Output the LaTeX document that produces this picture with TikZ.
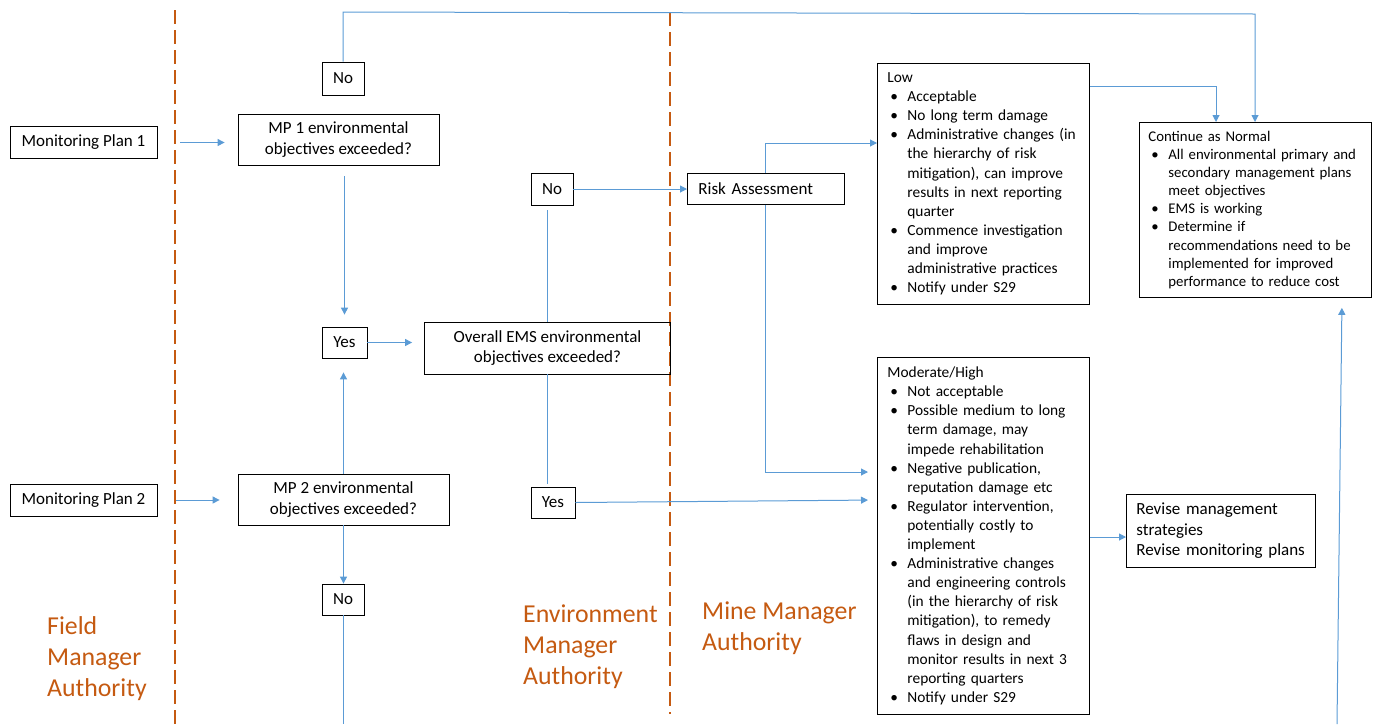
\documentclass[tikz,border=0pt]{standalone}
\usepackage{fontspec}
\setmainfont{Carlito}
\usetikzlibrary{arrows.meta}
\definecolor{orng}{HTML}{C55A11}
\definecolor{arw}{HTML}{5B9BD5}
\newcommand{\bitem}[1]{\mbox{\hspace*{3pt}\makebox[17pt][l]{\textbullet}#1}}
\newcommand{\bcont}[1]{\mbox{\hspace*{20pt}#1}}
\begin{document}
\begin{tikzpicture}[x=1pt,y=-1pt,
  box/.style={draw=black, line width=0.8pt, inner sep=0pt, font=\fontsize{17}{20.5}\selectfont, align=center},
  lbox/.style={box, anchor=north west, align=left, inner xsep=10pt, inner ysep=0pt},
  listfont/.style={font=\fontsize{15.4}{19.1}\selectfont},
  conn/.style={draw=arw, line width=1pt},
  arr/.style={conn, -{Triangle[length=7pt,width=7pt]}},
  lane/.style={draw=orng, line width=1.6pt, dash pattern=on 14pt off 6pt},
  lab/.style={text=orng, font=\fontsize{25.8}{31}\selectfont, align=left, anchor=north west, inner sep=0pt}
]
\useasboundingbox (0,0) rectangle (1378,724);

% swim lanes
\draw[lane] (175,10) -- (175,724);
\draw[lane] (670,12) -- (670,714);

% lane labels
\node[lab] (fieldlab) at (47,616) {Field\\Manager\\Authority};
\node[lab] (envlab) at (523,605) {Environment\\Manager\\Authority};
\node[lab] (minelab) at (702,602) {Mine Manager\\Authority};

% left column
\node[box, minimum width=147pt, minimum height=32pt] (mp1plan) at (83.5,142.5) {Monitoring Plan 1};
\node[box, minimum width=201pt, minimum height=51pt] (mp1) at (338.5,139.5) {MP 1 environmental\\objectives exceeded?};
\node[box, minimum width=42pt, minimum height=33pt] (noTop) at (343,78.5) {No};
\node[box, minimum width=45pt, minimum height=31pt] (yesTop) at (344.5,342.5) {Yes};
\node[box, minimum width=147pt, minimum height=32pt] (mp2plan) at (83.5,500) {Monitoring Plan 2};
\node[box, minimum width=211pt, minimum height=51pt] (mp2) at (343.5,499.5) {MP 2 environmental\\objectives exceeded?};
\node[box, minimum width=42pt, minimum height=31pt] (noBot) at (343,599.5) {No};

% middle column
\node[box, minimum width=246pt, minimum height=52pt] (overall) at (547.5,348) {Overall EMS environmental\\objectives exceeded?};
\node[box, minimum width=42pt, minimum height=32pt] (noMid) at (552,189) {No};
\node[box, minimum width=44pt, minimum height=31pt] (yesMid) at (553,502.5) {Yes};

% right columns
\node[lbox, text width=135pt, minimum height=31pt, inner xsep=11pt] (ra) at (687,173) {Risk Assessment};
\node[lbox, listfont, text width=192pt, minimum height=241pt] (low) at (877,63) {Low\\
\bitem{Acceptable}\\
\bitem{No long term damage}\\
\bitem{Administrative changes (in}\\
\bcont{the hierarchy of risk}\\
\bcont{mitigation), can improve}\\
\bcont{results in next reporting}\\
\bcont{quarter}\\
\bitem{Commence investigation}\\
\bcont{and improve}\\
\bcont{administrative practices}\\
\bitem{Notify under S29}};
\node[lbox, listfont, text width=192pt, minimum height=357pt] (mod) at (877,357) {Moderate/High\\
\bitem{Not acceptable}\\
\bitem{Possible medium to long}\\
\bcont{term damage, may}\\
\bcont{impede rehabilitation}\\
\bitem{Negative publication,}\\
\bcont{reputation damage etc}\\
\bitem{Regulator intervention,}\\
\bcont{potentially costly to}\\
\bcont{implement}\\
\bitem{Administrative changes}\\
\bcont{and engineering controls}\\
\bcont{(in the hierarchy of risk}\\
\bcont{mitigation), to remedy}\\
\bcont{flaws in design and}\\
\bcont{monitor results in next 3}\\
\bcont{reporting quarters}\\
\bitem{Notify under S29}};
\node[lbox, text width=214pt, minimum height=175pt, inner xsep=9pt, font=\fontsize{14.8}{18.1}\selectfont] (cont) at (1139,122) {Continue as Normal\\
\bitem{All environmental primary and}\\
\bcont{secondary management plans}\\
\bcont{meet objectives}\\
\bitem{EMS is working}\\
\bitem{Determine if}\\
\bcont{recommendations need to be}\\
\bcont{implemented for improved}\\
\bcont{performance to reduce cost}};
\node[lbox, text width=169pt, minimum height=73pt, font=\fontsize{17}{20.5}\selectfont] (rev) at (1126,494) {Revise management\\strategies\\Revise monitoring plans};

% connectors
\coordinate (topL) at (343,12);
\coordinate (topR) at (1255,14);
\draw[arr] (noTop.north) -- (topL) -- (topR) -- (topR |- cont.north);
\draw[arr, shorten <=23pt, shorten >=13pt] (mp1plan.east) -- (mp1plan.east -| mp1.west);
\draw[arr, shorten <=11pt, shorten >=12pt] (yesTop.north |- mp1.south) -- (yesTop.north);
\draw[arr, shorten >=12pt] (yesTop.east) -- (yesTop.east -| overall.west);
\draw[conn, shorten >=5pt] (overall.north) -- (overall.north |- noMid.south);
\draw[arr] (noMid.east) -- (noMid.east -| ra.west);
\draw[arr] (ra.north) |- (low.west |- 0,143);
\draw[arr, shorten >=9pt] (ra.south) |- (mod.west |- 0,472);
\draw[conn, shorten >=3pt] (overall.south) -- (overall.south |- yesMid.north);
\draw[arr, shorten >=9pt] (yesMid.east) -- (mod.west |- 0,500);
\draw[arr] (low.east |- 0,86) -| (cont.north -| 1216,0);
\draw[arr] (mod.east |- 0,537) -- (rev.west |- 0,537);
\coordinate (brb) at (1337,724);
\draw[arr, shorten >=10pt] (brb) -- (cont.south -| 1342,0);
\draw[arr, shorten <=19pt, shorten >=18pt] (mp2plan.east) -- (mp2plan.east -| mp2.west);
\draw[arr, shorten >=14pt] (mp2.north) -- (mp2.north |- yesTop.south);
\draw[arr] (mp2.south) -- (mp2.south |- noBot.north);
\coordinate (blb) at (343,724);
\draw[conn] (noBot.south) -- (blb);
\end{tikzpicture}
\end{document}
